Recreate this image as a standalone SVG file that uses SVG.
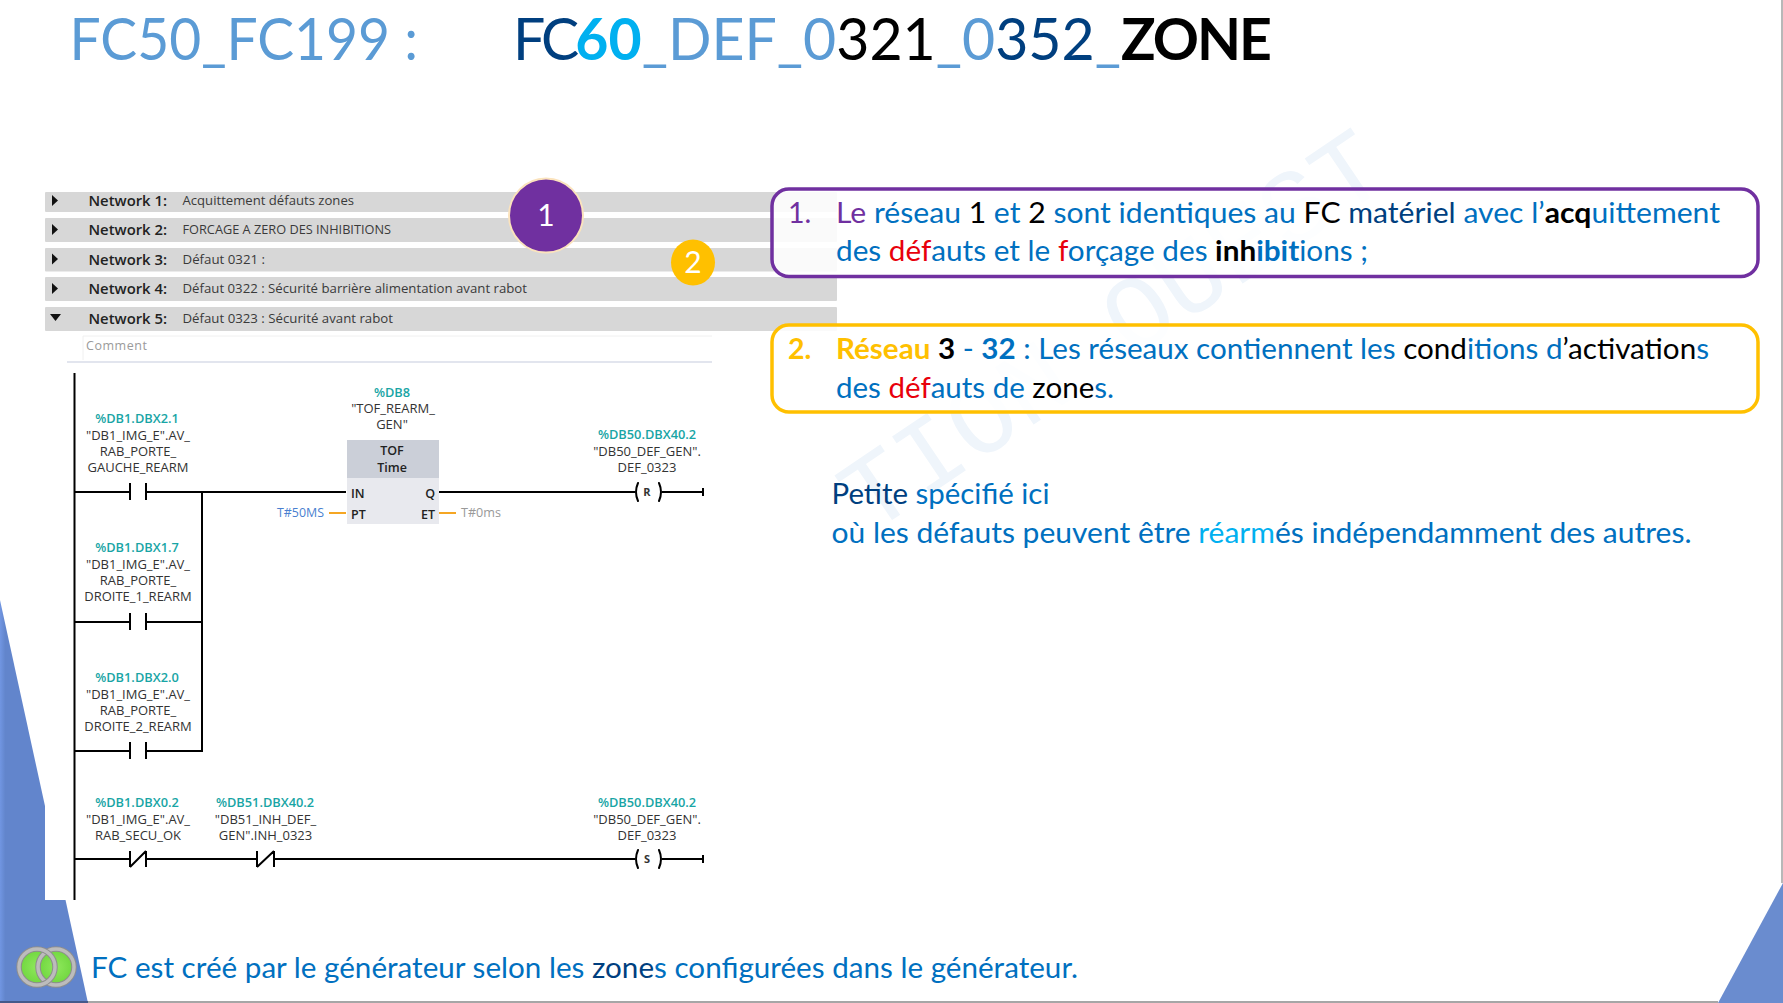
<svg xmlns="http://www.w3.org/2000/svg" width="1783" height="1003" viewBox="0 0 1783 1003">
<defs>
<linearGradient id="edge" x1="0" x2="1" y1="0" y2="0"><stop offset="0" stop-color="#7196e2"/><stop offset="0.06" stop-color="#6285cc"/><stop offset="1" stop-color="#6285cc"/></linearGradient>
<radialGradient id="green"><stop offset="0" stop-color="#8fe85c"/><stop offset="1" stop-color="#6fd63e"/></radialGradient>
</defs>
<style>
text{font-family:"Lato","Carlito","Liberation Sans",sans-serif}
.t{font-size:58px}.b{font-size:28.500px}
.blue{fill:#0070c0}.navy{fill:#003f7f}.light{fill:#5b9bd5}.sky{fill:#00b0f0}.red{fill:#e8000b}.k{fill:#000}.pur{fill:#7030a0}.yel{fill:#ffc000}
.bd{font-weight:700}
.st{font-family:"Open Sans","Noto Sans",sans-serif}
.nw{font-size:14.500px;font-weight:600;fill:#222}
.nd{font-size:13px;fill:#3a3a3a}
.ad{font-size:12.800px;font-weight:600;fill:#18a5a5;text-anchor:middle}
.sy{font-size:13px;fill:#333;text-anchor:middle}
.pin{font-size:12.500px;font-weight:600;fill:#222}
.bar{fill:#d7d7d7}
.w{stroke:#000;stroke-width:2;fill:none}
.o{stroke:#f5a623;stroke-width:2;fill:none}
.box{fill:#fff;fill-opacity:.86;stroke-width:3.500}
</style>
<rect width="1783" height="1003" fill="#fff"/>
<g id="background">
<text transform="translate(870,535) rotate(-34)" style="font-family:'Liberation Mono',monospace;font-size:105px" fill="#eff5fb">TION OUEST</text>
<polygon points="0,600 88,1003 0,1003" fill="url(#edge)"/>
<rect x="45" y="770" width="700" height="130" fill="#fff"/>
<polygon points="1718,1003 1783,883 1783,1003" fill="#6a8ccf"/>
<rect x="88" y="1001" width="1630" height="2" fill="#a6a6a6"/>
<rect x="0" y="1001" width="88" height="2" fill="#44598a"/>
<rect x="1781" y="0" width="2" height="883" fill="#b8b8b8"/>
</g>
<g id="title">
<text class="t light" x="69.500" y="60" textLength="348.500" lengthAdjust="spacingAndGlyphs">FC50_FC199 :</text>
<text class="t" x="513" y="60" textLength="757" lengthAdjust="spacingAndGlyphs"><tspan class="navy" style="letter-spacing:-4px">FC</tspan><tspan class="sky bd">60</tspan><tspan class="light">_DEF_0</tspan><tspan class="k">321</tspan><tspan class="light">_0</tspan><tspan class="navy">352</tspan><tspan class="light">_</tspan><tspan class="k bd" style="letter-spacing:-2px">ZONE</tspan></text>
</g>
<g id="network-bars">
<rect class="bar" x="45" y="192" width="792" height="20" rx="1"/>
<rect class="bar" x="45" y="218" width="792" height="24" rx="1"/>
<rect class="bar" x="45" y="248" width="792" height="23.500" rx="1"/>
<rect class="bar" x="45" y="277" width="792" height="24" rx="1"/>
<rect class="bar" x="45" y="307" width="792" height="24" rx="1"/>
<g fill="#111">
<polygon points="52,195 58,200.500 52,206"/>
<polygon points="52,224 58,229.500 52,235"/>
<polygon points="52,253.500 58,259 52,264.500"/>
<polygon points="52,283 58,288.500 52,294"/>
<polygon points="50,314 61,314 55.500,321"/>
</g>
<g class="st">
<text class="nw st" x="88.500" y="205.500" textLength="78.500" lengthAdjust="spacingAndGlyphs">Network 1:</text>
<text class="nw st" x="88.500" y="234.500" textLength="78.500" lengthAdjust="spacingAndGlyphs">Network 2:</text>
<text class="nw st" x="88.500" y="264.500" textLength="78.500" lengthAdjust="spacingAndGlyphs">Network 3:</text>
<text class="nw st" x="88.500" y="294" textLength="78.500" lengthAdjust="spacingAndGlyphs">Network 4:</text>
<text class="nw st" x="88.500" y="323.500" textLength="78.500" lengthAdjust="spacingAndGlyphs">Network 5:</text>
<text class="nd st" x="182.500" y="204.500" textLength="171.500" lengthAdjust="spacingAndGlyphs">Acquittement défauts zones</text>
<text class="nd st" x="182.500" y="234" textLength="208.500" lengthAdjust="spacingAndGlyphs">FORCAGE A ZERO DES INHIBITIONS</text>
<text class="nd st" x="182.500" y="263.500" textLength="82.500" lengthAdjust="spacingAndGlyphs">Défaut 0321 :</text>
<text class="nd st" x="182.500" y="293" textLength="344.500" lengthAdjust="spacingAndGlyphs">Défaut 0322 : Sécurité barrière alimentation avant rabot</text>
<text class="nd st" x="182.500" y="322.500" textLength="210.500" lengthAdjust="spacingAndGlyphs">Défaut 0323 : Sécurité avant rabot</text>
</g>
<path d="M83,360V336H712" fill="none" stroke="#f0f0f0" stroke-width="1"/>
<text class="st" x="86" y="350" font-size="12.500" fill="#9a9a9a" textLength="61">Comment</text>
<line x1="67" y1="362" x2="712" y2="362" stroke="#d9dce8" stroke-width="1.500"/>
</g>
<g id="connectors">
<path class="w" d="M74.500,373V900"/>
<path class="w" d="M74.500,492H130M146,492H346M130,483V500M146,483V500"/>
<path class="w" d="M202,492V751"/>
<path class="w" d="M74.500,622H130M146,622H202M130,613V630M146,613V630"/>
<path class="w" d="M74.500,751H130M146,751H203M130,742V759M146,742V759"/>
<path class="w" d="M74.500,859H130M146,859H257M274,859H635M130,851V867M146,851V867M130,867L146,851M257,851V867M274,851V867M257,867L274,851"/>
<path class="w" d="M439,492H635M662,492H703M703,488V496"/>
<path class="w" d="M662,859H703M703,855V863"/>
<path class="w" stroke-linecap="round" d="M638,483Q634,492 638,501M659,483Q663,492 659,501M638,850Q634,859 638,868M659,850Q663,859 659,868"/>
<path class="o" d="M329,513H346M439,513H456"/>
</g>
<g id="contact-labels" class="st">
<g>
<text class="ad st" x="137" y="422.500">%DB1.DBX2.1</text>
<text class="sy st" x="138" y="439.500">"DB1_IMG_E".AV_</text>
<text class="sy st" x="138" y="455.500">RAB_PORTE_</text>
<text class="sy st" x="138" y="471.500">GAUCHE_REARM</text>
</g>
<g>
<text class="ad st" x="137" y="551.500">%DB1.DBX1.7</text>
<text class="sy st" x="138" y="568.500">"DB1_IMG_E".AV_</text>
<text class="sy st" x="138" y="584.500">RAB_PORTE_</text>
<text class="sy st" x="138" y="600.500">DROITE_1_REARM</text>
</g>
<g>
<text class="ad st" x="137" y="681.500">%DB1.DBX2.0</text>
<text class="sy st" x="138" y="698.500">"DB1_IMG_E".AV_</text>
<text class="sy st" x="138" y="714.500">RAB_PORTE_</text>
<text class="sy st" x="138" y="730.500">DROITE_2_REARM</text>
</g>
<g>
<text class="ad st" x="137" y="806.500">%DB1.DBX0.2</text>
<text class="sy st" x="138" y="824">"DB1_IMG_E".AV_</text>
<text class="sy st" x="138" y="840">RAB_SECU_OK</text>
</g>
<g>
<text class="ad st" x="265" y="806.500">%DB51.DBX40.2</text>
<text class="sy st" x="265.500" y="824">"DB51_INH_DEF_</text>
<text class="sy st" x="265.500" y="840">GEN".INH_0323</text>
</g>
<g>
<text class="ad st" x="647" y="439">%DB50.DBX40.2</text>
<text class="sy st" x="647" y="455.500">"DB50_DEF_GEN".</text>
<text class="sy st" x="647" y="472">DEF_0323</text>
<text class="st" x="647" y="496" font-size="11" font-weight="700" fill="#333" text-anchor="middle">R</text>
</g>
<g>
<text class="ad st" x="647" y="806.500">%DB50.DBX40.2</text>
<text class="sy st" x="647" y="823.500">"DB50_DEF_GEN".</text>
<text class="sy st" x="647" y="839.500">DEF_0323</text>
<text class="st" x="647" y="863" font-size="11" font-weight="700" fill="#333" text-anchor="middle">S</text>
</g>
</g>
<g id="tof-block" class="st">
<rect x="347" y="440" width="92" height="84" fill="#e8e9ee"/>
<rect x="347" y="440" width="92" height="38" fill="#cbcfd8"/>
<text class="ad st" x="392" y="396.500">%DB8</text>
<text class="sy st" x="393" y="412.500">"TOF_REARM_</text>
<text class="sy st" x="392" y="428.500">GEN"</text>
<text class="pin st" x="392" y="454.500" text-anchor="middle">TOF</text>
<text class="pin st" x="392" y="471.500" text-anchor="middle">Time</text>
<text class="pin st" x="351" y="498">IN</text>
<text class="pin st" x="435" y="498" text-anchor="end">Q</text>
<text class="pin st" x="351" y="519">PT</text>
<text class="pin st" x="435" y="519" text-anchor="end">ET</text>
<text class="st" x="277" y="517" font-size="12" fill="#4a7fd0" textLength="47" lengthAdjust="spacingAndGlyphs">T#50MS</text>
<text class="st" x="461" y="517" font-size="12" fill="#999" textLength="40" lengthAdjust="spacingAndGlyphs">T#0ms</text>
</g>
<g id="callout-1">
<rect class="box" x="772" y="189" width="986" height="87.500" rx="17" stroke="#7030a0"/>
<text class="b pur" x="788" y="222.500">1.</text>
<text class="b blue" x="836" y="222.500" textLength="884" lengthAdjust="spacingAndGlyphs"><tspan class="pur">Le</tspan> réseau <tspan class="k">1</tspan> et <tspan class="k">2</tspan> sont identiques au <tspan class="k">FC</tspan> <tspan class="navy">matériel</tspan> avec l’<tspan class="k bd">acq</tspan>uittement</text>
<text class="b blue" x="836" y="261" textLength="532" lengthAdjust="spacingAndGlyphs">des <tspan class="red">déf</tspan>auts et le <tspan class="red">f</tspan>orçage des <tspan class="k bd">inh</tspan><tspan class="bd">ibit</tspan>ions ;</text>
</g>
<g id="callout-2">
<rect class="box" x="772" y="325" width="986" height="87" rx="17" stroke="#ffc000"/>
<text class="b yel bd" x="788" y="359">2.</text>
<text class="b blue" x="836" y="359" textLength="873" lengthAdjust="spacingAndGlyphs"><tspan class="yel bd">Réseau</tspan> <tspan class="k bd">3</tspan> - <tspan class="bd">32</tspan> : Les réseaux contiennent les <tspan class="k">cond</tspan>itions d<tspan class="k">’activation</tspan>s</text>
<text class="b blue" x="836" y="397.500" textLength="278" lengthAdjust="spacingAndGlyphs">des <tspan class="red">déf</tspan>auts de <tspan class="k">zone</tspan>s.</text>
</g>
<g id="badge-1">
<circle cx="546" cy="215.500" r="37" fill="#7030a0" stroke="#fbe3bd" stroke-width="2"/>
<text x="546" y="226" font-size="30" fill="#fff" text-anchor="middle">1</text>
</g>
<g id="badge-2">
<ellipse cx="693" cy="262.500" rx="22" ry="23" fill="#ffc000"/>
<text x="693" y="273" font-size="30" fill="#fff" text-anchor="middle">2</text>
</g>
<g id="note">
<text class="b blue" x="831.500" y="504" textLength="218" lengthAdjust="spacingAndGlyphs"><tspan class="navy">Petite</tspan> spécifié ici</text>
<text class="b blue" x="831.500" y="542.500" textLength="860" lengthAdjust="spacingAndGlyphs">où les défauts peuvent être <tspan class="sky">réarm</tspan>és indépendamment des autres.</text>
</g>
<g id="logo" fill="none">
<circle cx="37" cy="967" r="18" fill="url(#green)"/>
<circle cx="56" cy="967" r="18" fill="url(#green)"/>
<circle cx="56" cy="967" r="18" stroke="#8e8e8e" stroke-width="5.500"/>
<circle cx="56" cy="967" r="18" stroke="#bcbcbc" stroke-width="3.500"/>
<circle cx="37" cy="967" r="18" stroke="#8e8e8e" stroke-width="5.500"/>
<circle cx="37" cy="967" r="18" stroke="#bcbcbc" stroke-width="3.500"/>
</g>
<g id="footer">
<text class="b blue" x="91" y="978" textLength="987" lengthAdjust="spacingAndGlyphs">FC est créé par le générateur selon les <tspan class="navy">zone</tspan>s configurées dans le générateur.</text>
</g>
</svg>
